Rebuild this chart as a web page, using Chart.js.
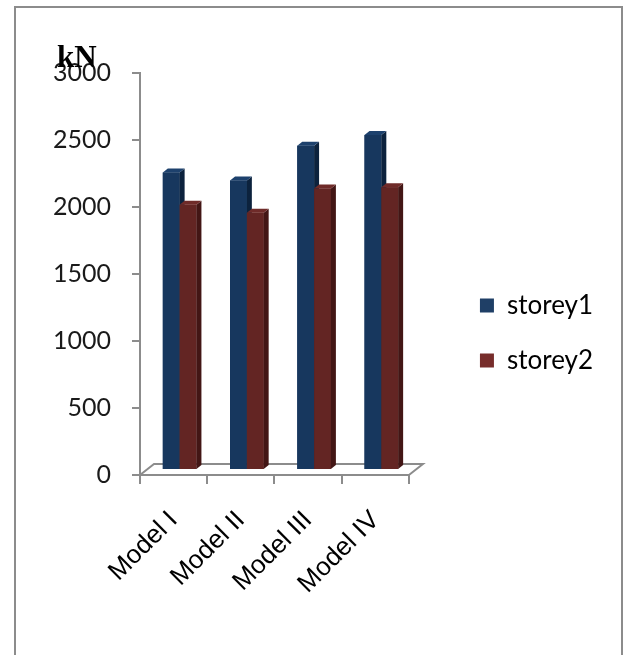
<!DOCTYPE html>
<html>
<head>
<meta charset="utf-8">
<script src="https://cdn.jsdelivr.net/npm/chart.js@4.4.0/dist/chart.umd.min.js"></script>
<style>
  html, body { margin: 0; padding: 0; background: #fff; overflow: hidden; }
  #wrap { position: relative; width: 624px; height: 655px; }
  #frame { position: absolute; left: 14px; top: 6px; width: 609px; height: 700px;
           border: 2px solid #8c8c8c; box-sizing: border-box; }
  #c { position: absolute; left: 0; top: 0; }
</style>
</head>
<body>
<div id="wrap">
  <div id="frame"></div>
  <canvas id="c" width="624" height="655"></canvas>
</div>
<script>
// Shear force per storey for each model (kN)
const categories = ['Model I', 'Model II', 'Model III', 'Model IV'];
const storey1 = [2220, 2160, 2420, 2500];
const storey2 = [1980, 1920, 2100, 2110];
const seriesNames = ['storey1', 'storey2'];
const yMin = 0, yMax = 3000, yStep = 500;
const unitLabel = 'kN';

const AXIS_GREY = '#8c8c8c';
const FRONT = ['#17375e', '#632523'];
const SIDE  = ['#0c223d', '#431615'];
const TOP   = ['#1d416d', '#6f2b29'];
const LEGEND_FILL = ['#1f3f66', '#772d2b'];

// pseudo-3D: floor depth and how far the bars sit back on it
const FLOOR = { dx: 14, dy: 11 };
const SHIFT = { dx: 6, dy: 5 };
const FACE  = { dx: 5, dy: 4 };

const bar3d = {
  id: 'bar3d',
  beforeDatasetsDraw(chart) {
    const { ctx, chartArea: a } = chart;
    ctx.save();
    ctx.strokeStyle = AXIS_GREY;
    ctx.lineWidth = 2;
    ctx.beginPath();
    ctx.moveTo(a.left, a.bottom);
    ctx.lineTo(a.left + FLOOR.dx, a.bottom - FLOOR.dy);
    ctx.lineTo(a.right + FLOOR.dx, a.bottom - FLOOR.dy);
    ctx.lineTo(a.right, a.bottom);
    ctx.stroke();
    ctx.restore();
    ctx.save();
    ctx.translate(SHIFT.dx, -SHIFT.dy);
  },
  afterDatasetsDraw(chart) {
    const ctx = chart.ctx;
    chart.data.datasets.forEach((ds, i) => {
      const meta = chart.getDatasetMeta(i);
      meta.data.forEach(el => {
        const { x, y, base, width } = el.getProps(['x', 'y', 'base', 'width'], true);
        const l = x - width / 2, r = x + width / 2;
        ctx.fillStyle = FRONT[i];
        ctx.fillRect(l, y, width, base - y);
        ctx.fillStyle = SIDE[i];
        ctx.beginPath();
        ctx.moveTo(r, y);
        ctx.lineTo(r + FACE.dx, y - FACE.dy);
        ctx.lineTo(r + FACE.dx, base - FACE.dy);
        ctx.lineTo(r, base);
        ctx.closePath();
        ctx.fill();
        ctx.fillStyle = TOP[i];
        ctx.beginPath();
        ctx.moveTo(l, y);
        ctx.lineTo(l + FACE.dx, y - FACE.dy);
        ctx.lineTo(r + FACE.dx, y - FACE.dy);
        ctx.lineTo(r, y);
        ctx.closePath();
        ctx.fill();
      });
    });
    ctx.restore();
  },
  afterDraw(chart) {
    const { ctx, chartArea: a } = chart;
    ctx.save();
    ctx.font = 'bold 31px "Liberation Serif"';
    ctx.fillStyle = '#000';
    ctx.textBaseline = 'alphabetic';
    ctx.fillText(unitLabel, a.left - 83, a.top - 6);
    ctx.restore();
  }
};

new Chart(document.getElementById('c'), {
  type: 'bar',
  data: {
    labels: categories,
    datasets: [
      { label: seriesNames[0], data: storey1, backgroundColor: FRONT[0] },
      { label: seriesNames[1], data: storey2, backgroundColor: FRONT[1] }
    ]
  },
  options: {
    responsive: false,
    animation: false,
    layout: { padding: { top: 73, bottom: 62, left: 0, right: 21 } },
    datasets: { bar: { categoryPercentage: 0.5, barPercentage: 1.0, borderWidth: 0 } },
    plugins: {
      tooltip: { enabled: false },
      legend: {
        position: 'right',
        maxWidth: 220,
        labels: {
          boxWidth: 14, boxHeight: 14, padding: 29,
          color: '#111',
          font: { family: 'Lato', size: 26 },
          generateLabels: (chart) => chart.data.datasets.map((ds, i) => ({
            text: ds.label, fillStyle: LEGEND_FILL[i], strokeStyle: LEGEND_FILL[i],
            lineWidth: 0, datasetIndex: i, hidden: false
          }))
        }
      }
    },
    scales: {
      x: {
        grid: { display: true, drawOnChartArea: false, offset: true, color: AXIS_GREY, lineWidth: 2, tickLength: 9 },
        border: { display: true, color: AXIS_GREY, width: 2 },
        ticks: { color: '#000', font: { family: 'Liberation Sans', size: 26 }, autoSkip: false,
                 minRotation: 45, maxRotation: 45, padding: 21 },
        afterFit: (s) => { s.height = 118; }
      },
      y: {
        min: yMin, max: yMax,
        grid: { display: true, drawOnChartArea: false, color: AXIS_GREY, lineWidth: 2, tickLength: 8 },
        border: { display: true, color: AXIS_GREY, width: 2 },
        ticks: { stepSize: yStep, color: '#1a1a1a', font: { family: 'Lato', size: 25 }, padding: 21,
                 callback: (v) => String(v) },
        afterFit: (s) => { s.width = 140; }
      },
      gap: {
        position: 'right', display: true,
        grid: { display: false }, border: { display: false }, ticks: { display: false },
        afterFit: (s) => { s.width = 42; }
      }
    }
  },
  plugins: [bar3d]
});
</script>
</body>
</html>
